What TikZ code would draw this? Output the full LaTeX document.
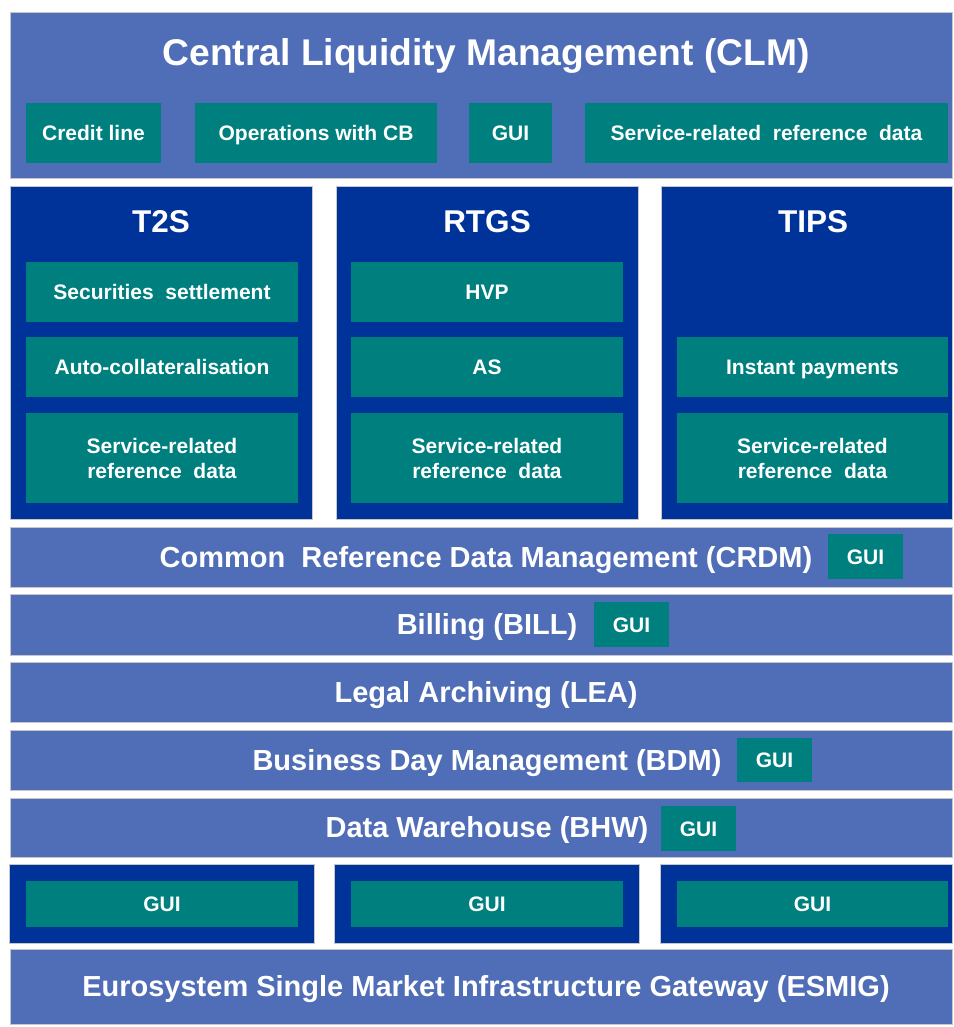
\documentclass[tikz,border=0pt]{standalone}
\usepackage{fontspec}
\setmainfont{Liberation Sans}
\definecolor{lb}{HTML}{4F6EB7}
\definecolor{db}{HTML}{003399}
\definecolor{tl}{HTML}{007F7F}
\tikzset{
 base/.style={inner sep=0pt, outer sep=0pt, anchor=north west, text=white},
 lbar/.style={base, fill=lb, draw=black!22, line width=0.7pt},
 dcol/.style={base, fill=db, draw=black!22, line width=0.5pt},
 gboxtwo/.style={base, fill=tl, align=center, font=\bfseries\fontsize{21}{25}\selectfont},
 gbox/.style={gboxtwo, text height=15pt, text depth=0pt},
 big/.style={text=white, inner sep=0pt, text height=20.8pt, text depth=0pt, font=\bfseries\fontsize{29}{32}\selectfont},
 title/.style={text=white, inner sep=0pt, text height=22.6pt, text depth=0pt, font=\bfseries\fontsize{31.5}{34}\selectfont},
}
\begin{document}
\begin{tikzpicture}[x=1pt,y=-1pt]
\useasboundingbox (0,0) rectangle (953,1027);
\fill[white] (0,0) rectangle (953,1027);
% CLM
\node[lbar, minimum width=942pt, minimum height=166pt] (clm) at (10,12) {};
\node[text=white, inner sep=0pt, text height=26.5pt, text depth=0pt, font=\bfseries\fontsize{37.2}{40}\selectfont] (clmt) at (486,52.2) {Central Liquidity Management (CLM)};
\node[gbox, minimum width=135pt, minimum height=60pt] (cl) at (26,103) {Credit line};
\node[gbox, minimum width=242pt, minimum height=60pt] (ops) at (195,103) {Operations with CB};
\node[gbox, minimum width=83pt, minimum height=60pt] (clmgui) at (469,103) {GUI};
\node[gbox, minimum width=363pt, minimum height=60pt] (clmsrd) at (585,103) {Service-related\ \ reference\ \ data};
% columns
\node[dcol, minimum width=302pt, minimum height=333pt] (t2s) at (10,186) {};
\node[dcol, minimum width=302pt, minimum height=333pt] (rtgs) at (336,186) {};
\node[dcol, minimum width=291pt, minimum height=333pt] (tips) at (661,186) {};
\node[title] (t2st) at (161,221) {T2S};
\node[title] (rtgst) at (487,221) {RTGS};
\node[title] (tipst) at (813,221) {TIPS};
\node[gbox, minimum width=272pt, minimum height=60pt] (ss) at (26,262) {Securities\ \ settlement};
\node[gbox, minimum width=272pt, minimum height=60pt] (ac) at (26,337) {Auto-collateralisation};
\node[gboxtwo, minimum width=272pt, minimum height=90pt] (t2ssrd) at (26,413) {Service-related\\reference\ \ data};
\node[gbox, minimum width=272pt, minimum height=60pt] (hvp) at (351,262) {HVP};
\node[gbox, minimum width=272pt, minimum height=60pt] (as) at (351,337) {AS};
\node[gboxtwo, minimum width=272pt, minimum height=90pt] (rtgssrd) at (351,413) {Service-related\\reference\ \ data};
\node[gbox, minimum width=271pt, minimum height=60pt] (ip) at (677,337) {Instant payments};
\node[gboxtwo, minimum width=271pt, minimum height=90pt] (tipssrd) at (677,413) {Service-related\\reference\ \ data};
% bars
\node[lbar, minimum width=942pt, minimum height=60pt] (crdm) at (10,527) {};
\node[big] (crdmt) at (486,557) {Common\ \ Reference Data Management (CRDM)};
\node[gbox, minimum width=75pt, minimum height=45pt] (crdmgui) at (828,534) {GUI};
\node[lbar, minimum width=942pt, minimum height=61pt] (bill) at (10,594) {};
\node[big] (billt) at (487,624.5) {Billing (BILL)};
\node[gbox, minimum width=75pt, minimum height=45pt] (billgui) at (594,602) {GUI};
\node[lbar, minimum width=942pt, minimum height=60pt] (lea) at (10,662) {};
\node[big] (leat) at (486,692) {Legal Archiving (LEA)};
\node[lbar, minimum width=942pt, minimum height=60pt] (bdm) at (10,730) {};
\node[big] (bdmt) at (487,760) {Business Day Management (BDM)};
\node[gbox, minimum width=75pt, minimum height=44pt] (bdmgui) at (737,738) {GUI};
\node[lbar, minimum width=942pt, minimum height=59pt] (bhw) at (10,798) {};
\node[big] (bhwt) at (487,827.5) {Data Warehouse (BHW)};
\node[gbox, minimum width=75pt, minimum height=45pt] (bhwgui) at (661,806) {GUI};
% bottom GUI columns
\node[dcol, minimum width=305pt, minimum height=79pt] (g1) at (9,864) {};
\node[dcol, minimum width=305pt, minimum height=79pt] (g2) at (334,864) {};
\node[dcol, minimum width=292pt, minimum height=79pt] (g3) at (660,864) {};
\node[gbox, minimum width=272pt, minimum height=46pt] (gi1) at (26,881) {GUI};
\node[gbox, minimum width=272pt, minimum height=46pt] (gi2) at (351,881) {GUI};
\node[gbox, minimum width=271pt, minimum height=46pt] (gi3) at (677,881) {GUI};
% ESMIG
\node[lbar, minimum width=942pt, minimum height=75pt] (esmig) at (10,949) {};
\node[big] (esmigt) at (486,986.5) {Eurosystem Single Market Infrastructure Gateway (ESMIG)};
\end{tikzpicture}
\end{document}
